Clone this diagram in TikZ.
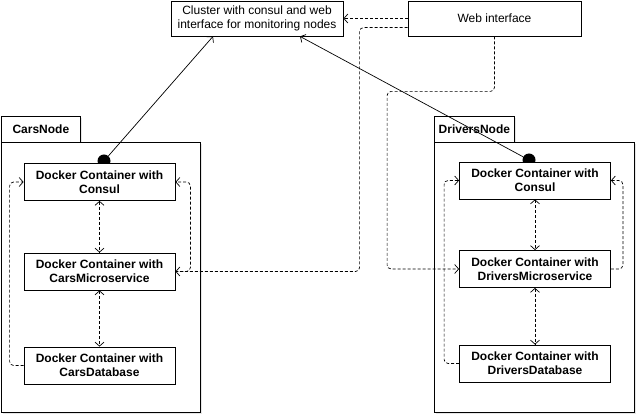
\documentclass[tikz,border=0pt]{standalone}
\usepackage{fontspec}
\setmainfont{Liberation Sans}
\usetikzlibrary{arrows.meta,shadows}

\begin{document}
\begin{tikzpicture}[x=1pt,y=-1pt,
    every node/.style={font=\fontsize{12}{14}\selectfont},
    container/.style={draw, fill=white, line width=0.8pt, minimum width=151pt, minimum height=37pt,
        align=center, inner sep=0pt, font=\bfseries\fontsize{12}{14}\selectfont},
    topbox/.style={draw, fill=white, line width=0.8pt, minimum height=35pt, align=center, inner sep=0pt},
    pkgtab/.style={draw, fill=white, line width=0.8pt, minimum width=79pt, minimum height=26pt, inner sep=0pt,
        font=\bfseries\fontsize{12}{14}\selectfont, anchor=north west,
        drop shadow={shadow xshift=2pt, shadow yshift=-2pt, opacity=0.2}},
    pkgbody/.style={draw, fill=white, line width=0.8pt, minimum height=270pt, inner sep=0pt, anchor=north west,
        drop shadow={shadow xshift=2pt, shadow yshift=-2pt, opacity=0.2}},
    dot/.style={circle, fill=black, minimum size=13pt, inner sep=0pt},
    link/.style={line width=0.7pt, -{Straight Barb[length=4pt,width=9pt]}},
    dep/.style={link, dash pattern=on 3pt off 2pt, rounded corners=4pt},
    depboth/.style={dep, {Straight Barb[length=4pt,width=9pt]}-{Straight Barb[length=4pt,width=9pt]}}
]
    \useasboundingbox (0,0) rectangle (640,419);

    % top boxes
    \node[topbox, minimum width=172pt] (cluster) at (257,18.5) {Cluster with consul and web\\interface for monitoring nodes};
    \node[topbox, minimum width=173pt] (web) at (494.5,18.5) {Web interface};

    % packages
    \node[pkgtab] (carsTab) at (1,116) {CarsNode};
    \node[pkgbody, minimum width=199pt] (carsBody) at (1,142) {};
    \node[pkgtab, minimum width=80pt] (driversTab) at (434,116) {DriversNode};
    \node[pkgbody, minimum width=200pt] (driversBody) at (434,142) {};

    % consul ports
    \node[dot] (carsDot) at (104,161) {};
    \node[dot] (driversDot) at (529,160) {};

    % containers
    \node[container] (carsConsul) at (99.5,182) {Docker Container with\\Consul};
    \node[container] (carsMicro) at (99.5,271.5) {Docker Container with\\CarsMicroservice};
    \node[container] (carsDb) at (99.5,365.5) {Docker Container with\\CarsDatabase};
    \node[container] (driversConsul) at (535,180.5) {Docker Container with\\Consul};
    \node[container] (driversMicro) at (535,269) {Docker Container with\\DriversMicroservice};
    \node[container] (driversDb) at (535,363.5) {Docker Container with\\DriversDatabase};

    % links to cluster
    \draw[link] (carsDot) -- ([xshift=-44pt]cluster.south);
    \draw[link] (driversDot) -- ([xshift=43pt]cluster.south);

    % web interface
    \draw[dep] (web.west) -- (cluster.east);
    \draw[dep] ([yshift=-9pt]web.west) -- ++(-48,0) |- (carsMicro.east);
    \draw[dep] (web.south) -- ++(0,55) -| ([xshift=-72pt]driversMicro.west) -- (driversMicro.west);

    % inside CarsNode
    \draw[depboth] (carsConsul) -- (carsMicro);
    \draw[depboth] (carsMicro) -- (carsDb);
    \draw[dep] (carsDb.west) -- ++(-14,0) |- (carsConsul.west);
    \draw[dep] (carsMicro.east) -- ++(15,0) |- (carsConsul.east);

    % inside DriversNode
    \draw[depboth] (driversConsul) -- (driversMicro);
    \draw[depboth] (driversMicro) -- (driversDb);
    \draw[dep] (driversDb.west) -- ++(-15,0) |- (driversConsul.west);
    \draw[dep] (driversMicro.east) -- ++(12,0) |- (driversConsul.east);

\end{tikzpicture}
\end{document}
